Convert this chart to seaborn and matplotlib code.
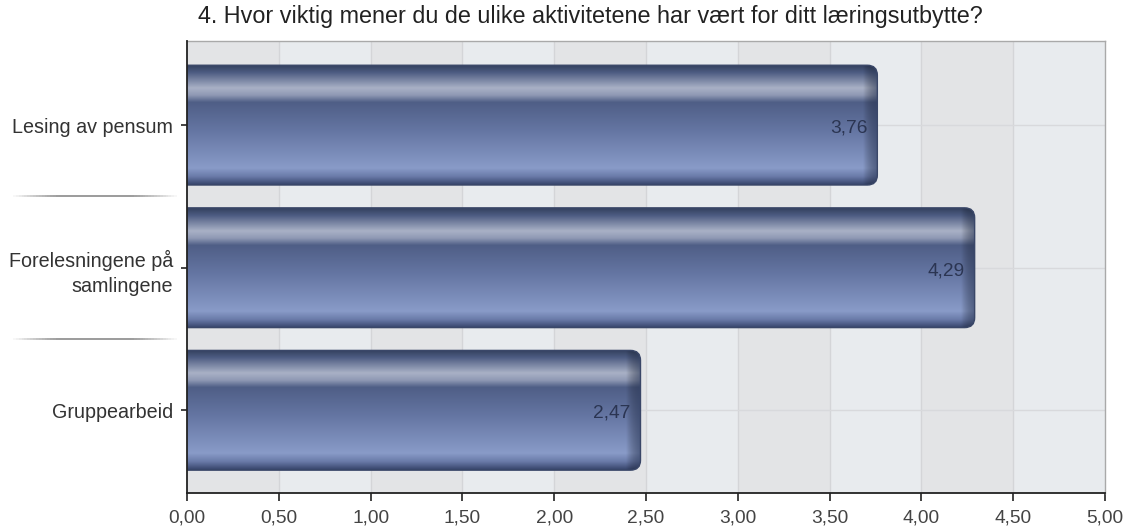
import numpy as np
import pandas as pd
import matplotlib
matplotlib.use("Agg")
import matplotlib.pyplot as plt
import seaborn as sns
from matplotlib.colors import LinearSegmentedColormap
from matplotlib.patches import FancyBboxPatch
from matplotlib.collections import LineCollection
import matplotlib.transforms as mtransforms

# data
categories = ["Lesing av pensum", "Forelesningene på\nsamlingene", "Gruppearbeid"]
values = [3.76, 4.29, 2.47]
xticks = [0, 0.5, 1.0, 1.5, 2.0, 2.5, 3.0, 3.5, 4.0, 4.5, 5.0]
title = "4. Hvor viktig mener du de ulike aktivitetene har vært for ditt læringsutbytte?"

sns.set_style("white")
plt.rcParams['font.family'] = ['Liberation Sans', 'DejaVu Sans']

W, H = 1129, 526
fig = plt.figure(figsize=(W / 100, H / 100), dpi=100)
ax = fig.add_axes([187 / W, 1 - 493 / H, (1105 - 187) / W, (493 - 41) / H])

df = pd.DataFrame({"kategori": categories, "verdi": values})
sns.barplot(data=df, x="verdi", y="kategori", orient="h", width=0.84,
            color="#5a6b98", ax=ax, zorder=3)
bars = list(ax.patches)

ax.set_xlim(0, 5)
ax.set_ylim(2.58, -0.59)

# background bands + grid
for i in range(10):
    c = "#e3e4e6" if i % 2 == 0 else "#e8ebee"
    ax.axvspan(i * 0.5, (i + 1) * 0.5, color=c, zorder=0, lw=0)
for x in xticks[1:-1]:
    ax.axvline(x, color="#d4d5d8", lw=1, zorder=1)
for y in range(len(categories)):
    ax.axhline(y, color="#d8d9dc", lw=1, zorder=1)

# gradient bars
grad = LinearSegmentedColormap.from_list("bar", [
    (0.0, "#34415f"), (0.06, "#4d5c82"), (0.19, "#a9b1c6"), (0.25, "#8f99b4"),
    (0.31, "#4f5e86"), (0.55, "#6576a3"), (0.86, "#899bc8"), (0.93, "#6a7ba9"),
    (1.0, "#36436a")])
edge = LinearSegmentedColormap.from_list("edge", [(0, 0, 0, 0), (0.15, 0.2, 0.32, 0.55)])

ax_w = (1105 - 187)
ax_h = (493 - 41)
xpp = 5 / ax_w
ypp = (2.58 + 0.59) / ax_h
r_px = 10

for p in bars:
    x0, y0 = p.get_x(), p.get_y()
    w, h = p.get_width(), p.get_height()
    p.set_visible(False)
    shape = FancyBboxPatch((-0.3, y0), w + 0.3, h,
                           boxstyle=f"round,pad=0,rounding_size={r_px * xpp}",
                           mutation_aspect=ypp / xpp,
                           fc="none", ec="#3a4768", lw=1.0, zorder=5)
    ax.add_patch(shape)
    g = np.linspace(0, 1, 256).reshape(-1, 1)
    im = ax.imshow(g, cmap=grad, aspect="auto", extent=(0, w, y0 + h, y0),
                   zorder=3, interpolation="bilinear")
    im.set_clip_path(shape)
    e = np.linspace(0, 1, 64).reshape(1, -1)
    im2 = ax.imshow(e, cmap=edge, aspect="auto", extent=(w - 14 * xpp, w, y0 + h, y0),
                    zorder=4, interpolation="bilinear")
    im2.set_clip_path(shape)

for i, v in enumerate(values):
    ax.text(v - 10 * xpp, i + 0.02, f"{v:.2f}".replace(".", ","), ha="right", va="center",
            fontsize=13.8, color="#2b3552", zorder=6)

ax.set_xticks(xticks)
ax.set_xticklabels([f"{t:.2f}".replace(".", ",") for t in xticks])
ax.set_xlabel("")
ax.set_ylabel("")
ax.tick_params(axis="x", direction="out", length=6, width=1.2, color="#222",
               labelsize=13.8, labelcolor="#444", bottom=True, pad=6)
ax.tick_params(axis="y", direction="out", length=4, width=1.2, color="#222",
               labelsize=14.2, labelcolor="#333", left=True, pad=6)
for lab in ax.get_yticklabels():
    lab.set_multialignment("right")
    lab.set_linespacing(1.42)

for s in ["left", "bottom"]:
    ax.spines[s].set_color("#222")
    ax.spines[s].set_linewidth(1.3)
for s in ["top", "right"]:
    ax.spines[s].set_color("#a9a9a9")
    ax.spines[s].set_linewidth(1)
ax.spines["left"].set_zorder(7)

# separators in label area
trans = mtransforms.blended_transform_factory(fig.transFigure, ax.transData)
xs = np.linspace(10 / W, 180 / W, 60)
for yb in [0.5, 1.5]:
    pts = np.array([[xs[k], yb] for k in range(len(xs))])
    segs = np.stack([pts[:-1], pts[1:]], axis=1)
    t = np.linspace(0, 1, len(segs))
    alphas = np.clip(np.sin(np.pi * t) * 1.3, 0, 1) * 0.7
    cols = [(0.35, 0.35, 0.35, a) for a in alphas]
    lc = LineCollection(segs, colors=cols, linewidths=1.2, transform=trans, clip_on=False)
    ax.add_collection(lc)

fig.text(198 / W, 1 - 16 / H, title, ha="left", va="center", fontsize=16.8, color="#222")

fig.savefig("out.png", dpi=100)
